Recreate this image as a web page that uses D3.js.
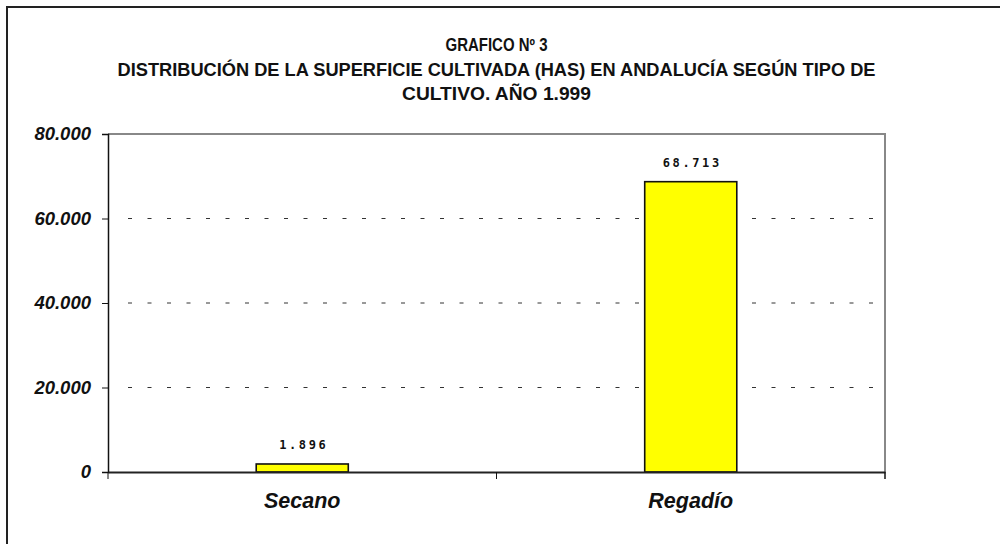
<!DOCTYPE html>
<html>
<head>
<meta charset="utf-8">
<script src="https://cdn.jsdelivr.net/npm/d3@7"></script>
<style>
  body { margin: 0; background: #fff; }
  svg { display: block; font-family: "Liberation Sans", Arial, sans-serif; }
</style>
</head>
<body>
<div id="chart-area"></div>
<script>
// data
const categories = ["Secano", "Regadío"]
const values = [1896, 68713]
const yTicks = [0, 20000, 40000, 60000, 80000]
const titleLines = [
  "GRAFICO Nº 3",
  "DISTRIBUCIÓN DE LA SUPERFICIE CULTIVADA (HAS) EN ANDALUCÍA SEGÚN TIPO DE",
  "CULTIVO. AÑO 1.999"
]

const MARGIN = { LEFT: 108, RIGHT: 115, TOP: 134, BOTTOM: 72 }
const W = 1000, H = 544
const WIDTH = W - MARGIN.LEFT - MARGIN.RIGHT
const HEIGHT = H - MARGIN.TOP - MARGIN.BOTTOM

const svg = d3.select("#chart-area").append("svg")
  .attr("width", W)
  .attr("height", H)

// outer frame (runs off the right and bottom edges)
svg.append("rect")
  .attr("x", 7).attr("y", 7)
  .attr("width", 1010).attr("height", 560)
  .attr("fill", "none")
  .attr("stroke", "#222")
  .attr("stroke-width", 2)

// titles
const titleBaselines = [51, 76, 100]
const titleWidths = [102, 758, 189]
titleLines.forEach((t, i) => {
  svg.append("text")
    .attr("x", MARGIN.LEFT + WIDTH / 2)
    .attr("y", titleBaselines[i])
    .attr("text-anchor", "middle")
    .attr("font-size", "18px")
    .attr("font-weight", "bold")
    .attr("fill", "#111")
    .attr("textLength", titleWidths[i])
    .attr("lengthAdjust", "spacingAndGlyphs")
    .text(t)
})

const g = svg.append("g")
  .attr("transform", `translate(${MARGIN.LEFT}, ${MARGIN.TOP})`)

// scales
const x = d3.scaleBand()
  .domain(categories)
  .range([0, WIDTH])
  .paddingInner(0.763)
  .paddingOuter(0.763 / 2)
const y = d3.scaleLinear()
  .domain([0, 80000])
  .range([HEIGHT, 0])

const fmt = d => d === 0 ? "0" : d3.format(",")(d).replace(/,/g, ".")

// gridlines (dashed)
g.selectAll(".grid")
  .data(yTicks.filter(d => d > 0 && d < 80000))
  .enter().append("line")
  .attr("class", "grid")
  .attr("x1", 20)
  .attr("x2", WIDTH - 6)
  .attr("y1", d => y(d))
  .attr("y2", d => y(d))
  .attr("stroke", "#333")
  .attr("stroke-width", 1)
  .attr("stroke-dasharray", "4,15.5")

// plot area top/right border
g.append("path")
  .attr("d", `M0,${y(80000)}H${WIDTH}V${HEIGHT + 7}`)
  .attr("fill", "none")
  .attr("stroke", "#888")
  .attr("stroke-width", 2)

// bars
g.selectAll(".bar")
  .data(values)
  .enter().append("rect")
  .attr("class", "bar")
  .attr("x", (d, i) => x(categories[i]))
  .attr("y", d => y(d))
  .attr("width", x.bandwidth())
  .attr("height", d => HEIGHT - y(d))
  .attr("fill", "#ffff00")
  .attr("stroke", "#111")
  .attr("stroke-width", 1.6)

// value labels
g.selectAll(".val")
  .data(values)
  .enter().append("text")
  .attr("class", "val")
  .attr("x", (d, i) => x(categories[i]) + x.bandwidth() / 2 + 1.5)
  .attr("y", d => y(d) - 15)
  .attr("text-anchor", "middle")
  .attr("font-family", "'DejaVu Sans Mono', monospace")
  .attr("font-weight", "bold")
  .attr("font-size", "12px")
  .attr("letter-spacing", "2.6px")
  .attr("fill", "#111")
  .text(d => fmt(d))

// y axis
const yAxis = g.append("g")
  .call(d3.axisLeft(y).tickValues(yTicks).tickSize(6).tickPadding(11).tickFormat(fmt))
yAxis.select(".domain").attr("stroke", "#111").attr("stroke-width", 1.5)
yAxis.selectAll(".tick line").attr("stroke", "#111")
yAxis.selectAll(".tick text")
  .attr("font-family", "'Liberation Sans', Arial, sans-serif")
  .attr("font-size", "18.5px")
  .attr("font-weight", "bold")
  .attr("font-style", "italic")
  .attr("fill", "#111")

// x axis
const xAxis = g.append("g")
  .attr("transform", `translate(0, ${HEIGHT})`)
  .call(d3.axisBottom(x).tickSize(0).tickPadding(21))
xAxis.select(".domain").attr("stroke", "#222").attr("stroke-width", 2)
xAxis.selectAll(".tick text")
  .attr("font-family", "'Liberation Sans', Arial, sans-serif")
  .attr("font-size", "21.5px")
  .attr("font-weight", "bold")
  .attr("font-style", "italic")
  .attr("fill", "#111")

// category boundary ticks
const half = (x.step() - x.bandwidth()) / 2
const bounds = categories.map(c => x(c) - half).concat([WIDTH])
xAxis.selectAll(".bound")
  .data(bounds)
  .enter().append("line")
  .attr("class", "bound")
  .attr("x1", d => d).attr("x2", d => d)
  .attr("y1", 0).attr("y2", 7)
  .attr("stroke", "#111")
</script>
</body>
</html>
